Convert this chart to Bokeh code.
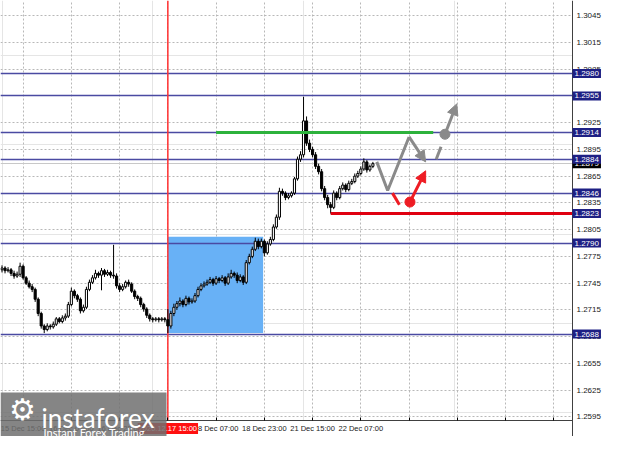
from bokeh.plotting import figure
from bokeh.models import (Range1d, FixedTicker, Label, Arrow, NormalHead,
                          BoxAnnotation, NumeralTickFormatter, LinearAxis, Grid)
from bokeh.embed import file_html
from bokeh.resources import INLINE

# ---------------- data (H1 candles) ----------------
opens = [1.2760, 1.2762, 1.2759, 1.2760, 1.2756, 1.2753, 1.2755, 1.2764, 1.2751, 1.2745,
         1.2741, 1.2738, 1.2727, 1.2711, 1.2697, 1.2693, 1.2697, 1.2696, 1.2699, 1.2705,
         1.2702, 1.2706, 1.2708, 1.2721, 1.2736, 1.2731, 1.2727, 1.2714, 1.2718, 1.2738,
         1.2746, 1.2751, 1.2756, 1.2754, 1.2759, 1.2755, 1.2757, 1.2754, 1.2753, 1.2742,
         1.2738, 1.2741, 1.2746, 1.2744, 1.2736, 1.2730, 1.2728, 1.2721, 1.2716, 1.2709,
         1.2705, 1.2704, 1.2705, 1.2704, 1.2705, 1.2704, 1.2697, 1.2711, 1.2718, 1.2722,
         1.2725, 1.2721, 1.2728, 1.2724, 1.2725, 1.2731, 1.2738, 1.2742, 1.2744, 1.2746,
         1.2749, 1.2745, 1.2750, 1.2748, 1.2751, 1.2745, 1.2752, 1.2756, 1.2754, 1.2748,
         1.2752, 1.2746, 1.2768, 1.2775, 1.2783, 1.2792, 1.2786, 1.2792, 1.2779, 1.2789,
         1.2794, 1.2808, 1.2819, 1.2848, 1.2846, 1.2841, 1.2843, 1.2846, 1.2862, 1.2884,
         1.2889, 1.2927, 1.2902, 1.2895, 1.2889, 1.2876, 1.2870, 1.2851, 1.2841, 1.2833,
         1.2830, 1.2846, 1.2841, 1.2851, 1.2855, 1.2850, 1.2857, 1.2859, 1.2865, 1.2868,
         1.2873, 1.2881, 1.2872, 1.2876]
closes = [1.2762, 1.2759, 1.2760, 1.2756, 1.2753, 1.2755, 1.2764, 1.2751, 1.2745, 1.2741,
          1.2738, 1.2727, 1.2711, 1.2697, 1.2693, 1.2697, 1.2696, 1.2699, 1.2705, 1.2702,
          1.2706, 1.2708, 1.2721, 1.2736, 1.2731, 1.2727, 1.2714, 1.2718, 1.2738, 1.2746,
          1.2751, 1.2756, 1.2754, 1.2759, 1.2755, 1.2757, 1.2754, 1.2753, 1.2742, 1.2738,
          1.2741, 1.2746, 1.2744, 1.2736, 1.2730, 1.2728, 1.2721, 1.2716, 1.2709, 1.2705,
          1.2704, 1.2705, 1.2704, 1.2705, 1.2704, 1.2697, 1.2711, 1.2718, 1.2722, 1.2725,
          1.2721, 1.2728, 1.2724, 1.2725, 1.2731, 1.2738, 1.2742, 1.2744, 1.2746, 1.2749,
          1.2745, 1.2750, 1.2748, 1.2751, 1.2745, 1.2752, 1.2756, 1.2754, 1.2748, 1.2752,
          1.2746, 1.2768, 1.2775, 1.2783, 1.2792, 1.2786, 1.2792, 1.2779, 1.2789, 1.2794,
          1.2808, 1.2819, 1.2848, 1.2846, 1.2841, 1.2843, 1.2846, 1.2862, 1.2884, 1.2889,
          1.2927, 1.2902, 1.2895, 1.2889, 1.2876, 1.2870, 1.2851, 1.2841, 1.2833, 1.2830,
          1.2846, 1.2841, 1.2851, 1.2855, 1.2850, 1.2857, 1.2859, 1.2865, 1.2868, 1.2873,
          1.2881, 1.2872, 1.2876, 1.2879]
highs = [1.2765, 1.2764, 1.2763, 1.2762, 1.2759, 1.2758, 1.2768, 1.2766, 1.2753, 1.2748,
         1.2744, 1.2740, 1.2729, 1.2713, 1.2699, 1.2700, 1.2699, 1.2702, 1.2707, 1.2707,
         1.2709, 1.2711, 1.2724, 1.2740, 1.2738, 1.2733, 1.2729, 1.2721, 1.2741, 1.2749,
         1.2754, 1.2760, 1.2758, 1.2762, 1.2761, 1.2760, 1.2759, 1.2788, 1.2756, 1.2745,
         1.2744, 1.2748, 1.2749, 1.2746, 1.2738, 1.2732, 1.2730, 1.2723, 1.2718, 1.2711,
         1.2707, 1.2707, 1.2707, 1.2707, 1.2707, 1.2716, 1.2714, 1.2722, 1.2725, 1.2729,
         1.2727, 1.2731, 1.2730, 1.2728, 1.2734, 1.2741, 1.2745, 1.2747, 1.2749, 1.2752,
         1.2751, 1.2753, 1.2752, 1.2754, 1.2753, 1.2756, 1.2760, 1.2758, 1.2757, 1.2755,
         1.2754, 1.2771, 1.2778, 1.2786, 1.2796, 1.2795, 1.2795, 1.2794, 1.2792, 1.2797,
         1.2811, 1.2822, 1.2852, 1.2851, 1.2848, 1.2846, 1.2848, 1.2864, 1.2887, 1.2893,
         1.2954, 1.2932, 1.2906, 1.2898, 1.2892, 1.2879, 1.2873, 1.2854, 1.2844, 1.2836,
         1.2849, 1.2848, 1.2854, 1.2858, 1.2857, 1.2860, 1.2862, 1.2868, 1.2871, 1.2876,
         1.2885, 1.2883, 1.2878, 1.2881]
lows = [1.2757, 1.2756, 1.2757, 1.2753, 1.2750, 1.2751, 1.2752, 1.2749, 1.2743, 1.2739,
        1.2735, 1.2724, 1.2708, 1.2694, 1.2689, 1.2691, 1.2693, 1.2694, 1.2697, 1.2700,
        1.2700, 1.2703, 1.2706, 1.2719, 1.2728, 1.2724, 1.2711, 1.2712, 1.2716, 1.2736,
        1.2744, 1.2749, 1.2751, 1.2737, 1.2752, 1.2753, 1.2751, 1.2750, 1.2739, 1.2735,
        1.2736, 1.2739, 1.2741, 1.2734, 1.2727, 1.2725, 1.2718, 1.2713, 1.2706, 1.2702,
        1.2701, 1.2702, 1.2701, 1.2702, 1.2701, 1.2689, 1.2694, 1.2708, 1.2715, 1.2719,
        1.2718, 1.2719, 1.2721, 1.2722, 1.2723, 1.2729, 1.2736, 1.2740, 1.2742, 1.2744,
        1.2742, 1.2743, 1.2745, 1.2746, 1.2742, 1.2743, 1.2750, 1.2751, 1.2745, 1.2746,
        1.2743, 1.2744, 1.2766, 1.2773, 1.2781, 1.2783, 1.2784, 1.2775, 1.2777, 1.2787,
        1.2792, 1.2806, 1.2816, 1.2843, 1.2838, 1.2839, 1.2841, 1.2844, 1.2860, 1.2881,
        1.2886, 1.2899, 1.2892, 1.2886, 1.2873, 1.2867, 1.2848, 1.2838, 1.2829, 1.2823,
        1.2828, 1.2838, 1.2839, 1.2849, 1.2847, 1.2848, 1.2855, 1.2857, 1.2863, 1.2866,
        1.2871, 1.2869, 1.2870, 1.2874]

price_ticks = [1.2595, 1.2625, 1.2655, 1.2685, 1.2715, 1.2745, 1.2775, 1.2805,
               1.2835, 1.2865, 1.2895, 1.2925, 1.2955, 1.2985, 1.3015, 1.3045]
time_ticks = [7, 23, 39, 55, 71, 87, 103, 119, 135, 151, 167, 183]
time_labels = ["15 Dec 15:00", "16 Dec 07:00", "16 Dec 23:00", "", "18 Dec 07:00",
               "18 Dec 23:00", "21 Dec 15:00", "22 Dec 07:00", "", "", "", ""]

levels = [1.2980, 1.2955, 1.2914, 1.2884, 1.2846, 1.2790, 1.2688]
support_level = 1.2823
current_price = 1.2879
marker_bar = 55
marker_label = "2020.12.17 15:00"
zone = dict(left=55, right=86.6, bottom=1.2689, top=1.2797)
green_x = [71, 143]
green_y = [1.2914, 1.2914]
red_x = [109, 190]
red_y = [1.2823, 1.2823]

gray_path_x = [124.3, 127.9, 135.0, 140.5]
gray_path_y = [1.2881, 1.2849, 1.2909, 1.2881]
gray_dash_x = [144.0, 145.6]
gray_dash_y = [1.2884, 1.2898]
gray_dot = (146.9, 1.2912)
gray_tip = (150.8, 1.2946)
red_dash_x = [129.5, 131.8]
red_dash_y = [1.2846, 1.2833]
red_dot = (135.3, 1.2836)
red_tip = (140.5, 1.2871)

# ---------------- geometry ----------------
W, H = 604, 436
PLOT_W, PLOT_H = 572, 420          # chart area; the rest holds the axis labels
X0, XA = -0.5, 189.2               # bar range of the chart area (XA = price axis)
Y0, Y1 = 1.2591, 1.3062            # price range of the chart area (Y0 = time axis)
BX = (XA - X0) / PLOT_W            # one pixel in bar units
PX = (Y1 - Y0) / PLOT_H            # one pixel in price units
XE = XA + (W - PLOT_W) * BX
YB = Y0 - (H - PLOT_H) * PX

p = figure(width=W, height=H, output_backend="svg", toolbar_location=None,
           x_range=Range1d(X0, XE), y_range=Range1d(YB, Y1),
           x_axis_location=None, y_axis_location=None,
           min_border=0)
p.outline_line_color = None
p.background_fill_color = "white"
p.border_fill_color = "white"

# axes, fixed at the edge of the chart area
yaxis = LinearAxis(fixed_location=XA, bounds=(YB, Y1),
                   ticker=FixedTicker(ticks=price_ticks),
                   formatter=NumeralTickFormatter(format="0.0000"))
yaxis.major_tick_out = 0
yaxis.major_tick_in = 0
yaxis.minor_tick_line_color = None
yaxis.axis_line_color = "#404040"
yaxis.major_label_text_font = "Liberation Sans"
yaxis.major_label_text_font_size = "8px"
yaxis.major_label_text_color = "#202020"
yaxis.major_label_standoff = 4
p.add_layout(yaxis, "right")

xaxis = LinearAxis(fixed_location=Y0, bounds=(X0, XA),
                   ticker=FixedTicker(ticks=time_ticks))
xaxis.major_label_overrides = {t: l for t, l in zip(time_ticks, time_labels)}
xaxis.major_tick_in = 3
xaxis.major_tick_out = 0
xaxis.minor_tick_line_color = None
xaxis.axis_line_color = "#404040"
xaxis.major_label_text_font = "Liberation Sans"
xaxis.major_label_text_font_size = "7.5px"
xaxis.major_label_text_color = "#202020"
xaxis.major_label_text_align = "left"
xaxis.major_label_standoff = 3
p.add_layout(xaxis, "below")

for dim, tk in ((0, xaxis.ticker), (1, yaxis.ticker)):
    p.add_layout(Grid(dimension=dim, ticker=tk, grid_line_color="#b8b8b8",
                      grid_line_dash="2 2", grid_line_width=1))

# blue zone
p.quad(left=[zone["left"]], right=[zone["right"]], bottom=[zone["bottom"]],
       top=[zone["top"]], fill_color="#68b1f6", line_color=None)

# levels
p.hspan(y=levels, line_color="#4a4aa2", line_width=1.3)
p.hspan(y=[current_price], line_color="#c8c8c8", line_width=1)
p.segment(x0=[marker_bar], y0=[Y0], x1=[marker_bar], y1=[Y1],
          line_color="#ff3030", line_width=1.5)

# candles
idx = list(range(len(closes)))
p.segment(x0=idx, y0=lows, x1=idx, y1=highs, line_color="black", line_width=1)
up = [i for i in idx if closes[i] >= opens[i]]
dn = [i for i in idx if closes[i] < opens[i]]
p.vbar(x=up, width=0.7, bottom=[opens[i] for i in up], top=[closes[i] for i in up],
       fill_color="white", line_color="black", line_width=1)
p.vbar(x=dn, width=0.7, bottom=[closes[i] for i in dn], top=[opens[i] for i in dn],
       fill_color="black", line_color="black", line_width=1)

# green / red horizontal targets
p.line(green_x, green_y, line_color="#2db23c", line_width=3)
p.line(red_x, red_y, line_color="#e00010", line_width=3)

# projections
GRAY = "#8a8a8a"
RED = "#ee1c24"
p.line(gray_path_x[:3], gray_path_y[:3], line_color=GRAY, line_width=3)
p.line(gray_dash_x, gray_dash_y, line_color=GRAY, line_width=3)
p.scatter([gray_dot[0]], [gray_dot[1]], size=10, fill_color=GRAY, line_color=GRAY)
p.line(red_dash_x, red_dash_y, line_color=RED, line_width=3)
p.scatter([red_dot[0]], [red_dot[1]], size=10, fill_color=RED, line_color=RED)

# white margins that hold the axis labels
p.quad(left=[XA, X0], right=[XE, XE], bottom=[YB, YB], top=[Y1, Y0],
       fill_color="white", line_color=None)

for (xs, ys, xe, ye, col) in ((gray_path_x[2], gray_path_y[2], gray_path_x[3], gray_path_y[3], GRAY),
                              (gray_dot[0], gray_dot[1], gray_tip[0], gray_tip[1], GRAY),
                              (red_dot[0], red_dot[1], red_tip[0], red_tip[1], RED)):
    p.add_layout(Arrow(x_start=xs, y_start=ys, x_end=xe, y_end=ye,
                       line_color=col, line_width=3,
                       end=NormalHead(size=11, fill_color=col, line_color=col)))

# price boxes on the axis
def price_box(val, bg):
    p.add_layout(Label(x=XA, y=val, text=f"{val:.4f}", text_align="left",
                       text_baseline="middle", text_font="Liberation Sans",
                       text_font_size="8px", text_color="white",
                       background_fill_color=bg, background_fill_alpha=1,
                       padding=2, x_offset=0, level="overlay"))

price_box(current_price, "#000000")
for lv in levels + [support_level]:
    price_box(lv, "#1e2084")

# red time marker label
p.add_layout(Label(x=marker_bar, y=Y0 - 8 * PX, text=marker_label,
                   text_align="center", text_baseline="middle",
                   text_font="Liberation Sans", text_font_size="7.5px",
                   text_color="white", background_fill_color="#ff1010",
                   background_fill_alpha=1, padding=1, level="overlay"))

# watermark logo
p.add_layout(BoxAnnotation(left=X0, right=X0 + 166 * BX, bottom=YB,
                           top=Y0 + 28 * PX, fill_color="#707070", fill_alpha=0.85,
                           line_color=None, level="overlay"))
p.add_layout(Label(x=X0 + 22 * BX, y=Y0 + 11 * PX, text="\u2699",
                   text_align="center", text_baseline="middle",
                   text_font="DejaVu Sans", text_font_size="30px",
                   text_color="white", level="overlay"))
p.add_layout(Label(x=X0 + 41 * BX, y=Y0 + 3 * PX, text="instaforex",
                   text_align="left", text_baseline="alphabetic",
                   text_font="Lato", text_font_size="26px",
                   text_color="white", level="overlay"))
p.add_layout(Label(x=X0 + 43 * BX, y=Y0 - 12 * PX, text="Instant Forex Trading",
                   text_align="left", text_baseline="alphabetic", text_font="Lato",
                   text_font_size="11px", text_color="white", level="overlay"))

open("out.html", "w").write(file_html(p, INLINE))
